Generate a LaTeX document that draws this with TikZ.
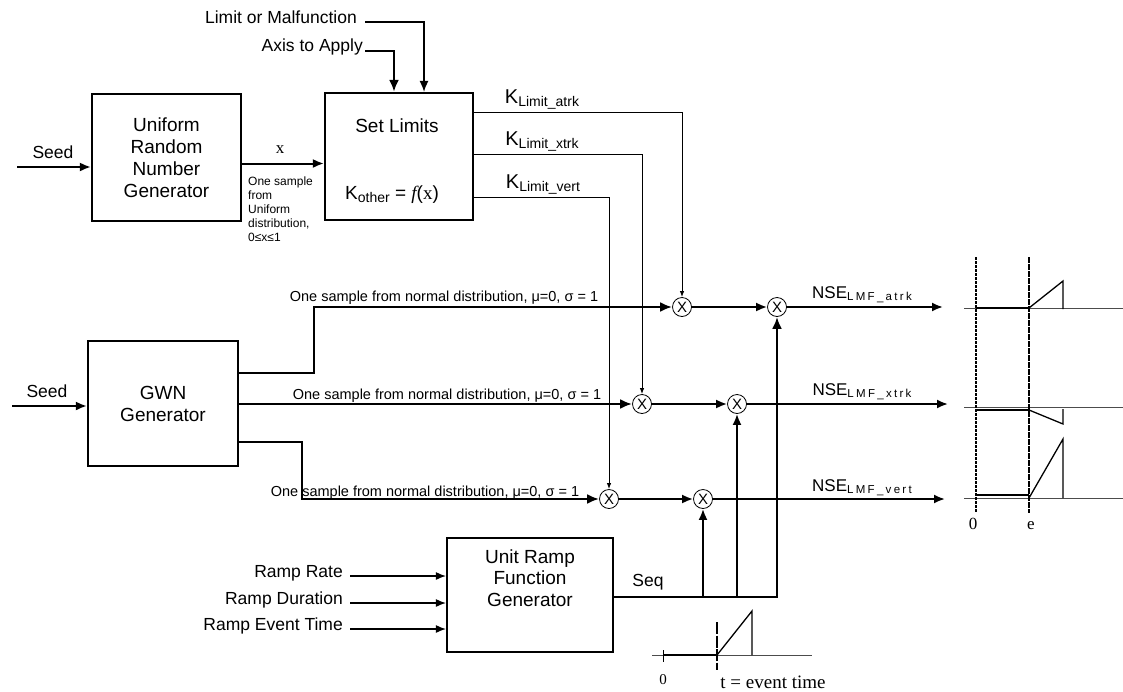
\documentclass[tikz,border=0pt]{standalone}
\usepackage{fontspec}
\setmainfont{Liberation Sans}
\newfontfamily\rmx{Liberation Serif}
\newfontfamily\spx[LetterSpace=20]{Liberation Sans}
\usetikzlibrary{arrows.meta}

\newcommand{\sbk}[1]{\raisebox{-3pt}{\fontsize{14}{14}\selectfont #1}}
\newcommand{\sbn}[1]{\raisebox{-2pt}{\spx\fontsize{11.5}{12}\selectfont #1}}

\begin{document}
\begin{tikzpicture}
		[x=1pt,y=-1pt,every node/.style={inner sep=2pt},
		box/.style={draw,line width=2.2pt,align=center,font=\fontsize{19}{22}\selectfont},
		lbl/.style={font=\fontsize{17.5}{20}\selectfont},
		note/.style={font=\fontsize{14.5}{16}\selectfont},
		klbl/.style={font=\fontsize{20}{22}\selectfont},
		nse/.style={font=\fontsize{17}{20}\selectfont},
		rm/.style={font=\rmx\fontsize{17}{20}\selectfont},
		mult/.style={circle,draw,fill=white,line width=0.8pt,inner sep=0pt,minimum size=19pt,font=\fontsize{15}{15}\selectfont},
		edge/.style={-{Latex[length=11pt,width=9pt]},line width=2pt},
		fat/.style={-{Latex[length=12pt,width=10pt]},line width=2.6pt},
		thin/.style={-{Latex[length=6pt,width=4.5pt]},line width=1pt},
		feed/.style={-{Latex[length=10pt,width=8pt]},line width=1.2pt},
		sig/.style={line width=2.6pt}]
		\useasboundingbox (0,0) rectangle (1123,691);

		% blocks
		\node[box,minimum width=149pt,minimum height=127pt] (urng) at (166.5,157.5) {Uniform\\Random\\Number\\Generator};
		\node[box,minimum width=148pt,minimum height=127pt] (lim) at (399,156.5) {};
		\node[font=\fontsize{19}{22}\selectfont] (limT) at (397,126) {Set Limits};
		\node[font=\fontsize{19}{22}\selectfont] (limK) at (392,195) {K\sbk{other} = {\rmx\itshape f}({\rmx x})};
		\node[box,minimum width=150pt,minimum height=125pt] (gwn) at (163,403.5) {GWN\\Generator};
		\node[box,minimum width=166pt,minimum height=114pt] (ramp) at (530,595) {};
		\node[align=center,font=\fontsize{19}{21.5}\selectfont] (rampT) at (530,578) {Unit Ramp\\Function\\Generator};

		% multipliers
		\node[mult] (ma1) at (682,307) {X};
		\node[mult] (ma2) at (777,307) {X};
		\node[mult] (mx1) at (642,404) {X};
		\node[mult] (mx2) at (737,404) {X};
		\node[mult] (mv1) at (609,499) {X};
		\node[mult] (mv2) at (703,499) {X};

		% seeds and x
		\node[lbl] (seedA) at (53,152) {Seed};
		\node[lbl] (seedB) at (47,391) {Seed};
		\coordinate (inA) at (17,167);
		\coordinate (inB) at (12,406);
		\draw[edge] (inA) -- (inA -| urng.west);
		\draw[edge] (inB) -- (inB -| gwn.west);
		\node[rm] (xl) at (280,150) {x};
		\draw[edge] ([yshift=-6pt]urng.east) -- ([yshift=-6pt]urng.east -| lim.west);
		\node[anchor=north west,align=left,font=\fontsize{12}{14}\selectfont] (xnote) at (246,175) {One sample\\from\\Uniform\\distribution,\\0≤x≤1};

		% limit inputs
		\node[lbl,anchor=east] (lmf) at (359,17) {Limit or Malfunction};
		\node[lbl,anchor=east] (axis) at (365,47) {Axis to Apply};
		\draw[edge,line width=1.4pt] ([shift={(6,5)}]lmf.east) -| ([xshift=25pt]lim.north);
		\draw[fat] ([shift={(0,4)}]axis.east) -| ([xshift=-5pt]lim.north);

		% limit outputs
		\node[klbl] (kA) at (542,100) {K\sbk{Limit\_atrk}};
		\node[klbl] (kX) at (542,142) {K\sbk{Limit\_xtrk}};
		\node[klbl] (kV) at (543,185) {K\sbk{Limit\_vert}};
		\foreach \dy/\m in {-44.5/ma1,-2.5/mx1,40.5/mv1}
		\draw[thin] ([shift={(0,\dy)}]lim.east) -| (\m.north);

		% noise samples
		\draw[fat] ([shift={(0,-30.5)}]gwn.east) -- ++(75,0) |- (ma1);
		\draw[fat] (gwn.east |- mx1) -- (mx1);
		\draw[fat] ([shift={(0,38.5)}]gwn.east) -- ++(63,0) |- (mv1);
		\foreach \nm/\xx/\yy in {nA/444/298,nX/447/396,nV/425/493}
		\node[note] (\nm) at (\xx,\yy) {One sample from normal distribution, μ=0, σ = 1};

		% products and outputs
		\coordinate (oA) at (943,307);
		\coordinate (oX) at (948,404);
		\coordinate (oV) at (945,499);
		\foreach \from/\to in {ma1/ma2,mx1/mx2,mv1/mv2,ma2/oA,mx2/oX,mv2/oV}
		\draw[edge] (\from) -- (\to);
		\node[nse] (nseA) at (862,295) {NSE\sbn{LMF\_atrk}};
		\node[nse] (nseX) at (862,392) {NSE\sbn{LMF\_xtrk}};
		\node[nse] (nseV) at (862,488) {NSE\sbn{LMF\_vert}};

		% ramp
		\coordinate (sj) at (777,597);
		\draw[fat] (ramp.east |- sj) -| (ma2);
		\draw[edge] (mx2 |- sj) -- (mx2);
		\draw[edge] (mv2 |- sj) -- (mv2);
		\node[lbl] (seq) at (648,582) {Seq};
		\foreach \txt/\yy/\nm in {Ramp Rate/576/rr,Ramp Duration/603/rd,Ramp Event Time/629/re}{
			\node[lbl,anchor=east] (\nm) at (345,\yy-3) {\txt};
			\coordinate (\nm in) at (350,\yy);
			\draw[feed] (\nm in) -- (\nm in -| ramp.west);
		}

		% ramp shape
		\draw[line width=0.9pt,gray!60!black] (652,655) -- (812,655);
		\draw[line width=1pt] (663,650) -- (663,662);
		\draw[line width=2pt] (663,655) -- (717,655);
		\draw[line width=1.4pt,dash pattern=on 12pt off 1.5pt] (717,622) -- (717,670);
		\draw[line width=1.3pt] (717,655) -- (752,611) -- (752,655);
		\node[rm,font=\rmx\fontsize{15}{16}\selectfont] (z1) at (663,680) {0};
		\node[rm,font=\rmx\fontsize{19}{20}\selectfont] (evt) at (773,682) {t = event time};

		% noise traces
		\foreach \yy in {308,407,498}
		\draw[line width=0.9pt,gray!60!black] (964,\yy) -- (1123,\yy);
		\draw[line width=1.2pt,dash pattern=on 3pt off 1pt] (976,257) -- (976,513);
		\draw[line width=2pt,dash pattern=on 6pt off 1pt] (1029,257) -- (1029,513);
		\draw[line width=2pt] (976,308) -- (1029,308);
		\draw[line width=1.3pt] (1029,308) -- (1063,281) -- (1063,309);
		\draw[line width=2pt] (976,410) -- (1029,410);
		\draw[line width=1.3pt] (1029,410) -- (1063,424) -- (1063,409);
		\draw[line width=2pt] (976,495) -- (1029,495);
		\draw[line width=1.3pt] (1029,498) -- (1063,439) -- (1063,498);
		\node[rm] (z2) at (973,524) {0};
		\node[rm] (e2) at (1031,526) {e};
\end{tikzpicture}
\end{document}
